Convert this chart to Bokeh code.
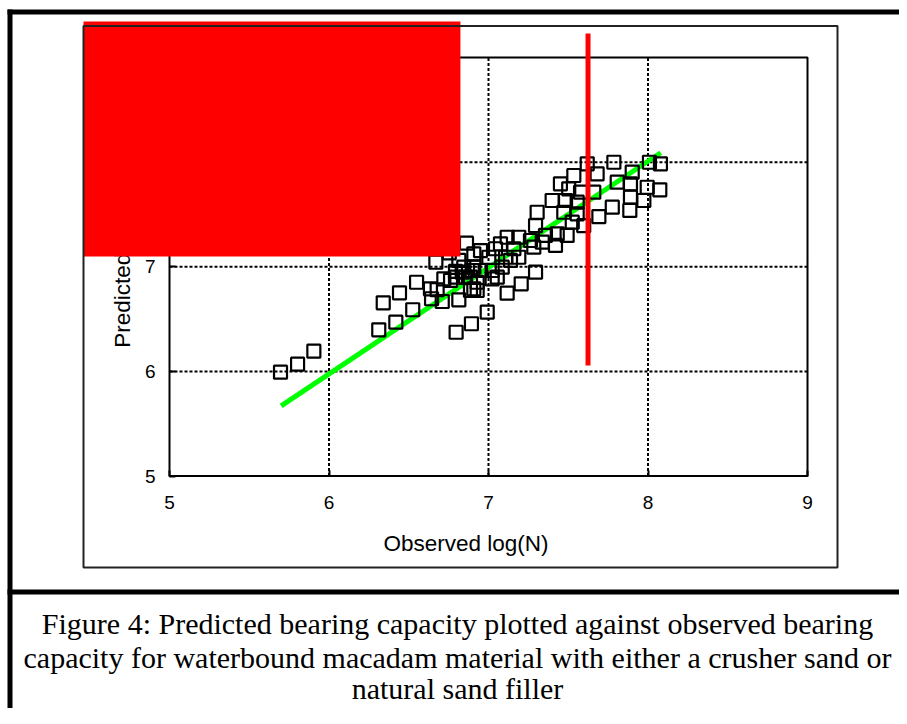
from math import pi
from bokeh.plotting import figure
from bokeh.models import Range1d, FixedTicker
from bokeh.core.properties import value
from bokeh.embed import file_html
from bokeh.resources import INLINE

# ---------------- data ----------------
observed = [
    5.696, 5.803, 5.905, 6.312, 6.340, 6.419, 6.442, 6.525, 6.549, 6.643,
    6.670, 6.678, 6.710, 6.754, 6.797, 6.862, 6.893, 6.814, 6.762, 6.793,
    6.814, 6.908, 6.908, 6.835, 6.887, 6.908, 6.992, 7.117, 7.205, 7.295,
    7.619, 7.786, 8.009, 8.078, 7.681, 7.535, 7.901, 7.890, 7.807, 7.995,
    8.074, 7.451, 7.503, 7.577, 7.660, 7.890, 7.974, 7.776, 7.886, 7.692,
    7.399, 7.483, 7.556, 7.305, 7.472, 7.556, 7.597, 7.525, 7.295, 7.493,
    7.431, 7.357, 7.420, 7.337, 7.263, 7.284, 7.190, 7.117, 7.075, 7.044,
    7.159, 7.190, 7.107, 7.002, 6.950, 6.898, 6.950, 6.845, 7.023, 7.086,
    7.138, 7.055, 6.929, 6.856, 6.793, 6.887, 6.929, 7.023, 6.720, 6.636,
]
predicted = [
    5.992, 6.069, 6.193, 6.397, 6.655, 6.470, 6.751, 6.589, 6.852, 6.694,
    7.043, 6.780, 6.668, 7.133, 6.374, 7.225, 6.455, 6.684, 6.869, 6.955,
    7.060, 7.124, 6.996, 6.948, 6.900, 6.789, 6.566, 6.747, 6.837, 6.948,
    7.984, 7.999, 7.999, 7.984, 7.888, 7.872, 7.904, 7.793, 7.808, 7.760,
    7.735, 7.793, 7.745, 7.713, 7.713, 7.665, 7.633, 7.569, 7.538, 7.480,
    7.633, 7.633, 7.617, 7.521, 7.521, 7.506, 7.394, 7.426, 7.394, 7.299,
    7.315, 7.299, 7.204, 7.235, 7.251, 7.187, 7.282, 7.282, 7.219, 7.172,
    7.172, 7.091, 7.091, 7.091, 7.155, 6.964, 6.964, 6.996, 6.964, 6.996,
    7.060, 6.900, 6.852, 6.900, 6.900, 6.773, 6.773, 6.885, 6.885, 6.789,
]
fit_observed = [5.70, 8.08]
fit_predicted = [5.67, 8.09]

axis_ticks = [5, 6, 7, 8, 9]
grid_ticks = [6, 7, 8]

# red overlay rectangle and red vertical bar (data units)
red_box_x = [4.461, 6.824]
red_box_y = [7.098, 9.345]
red_bar_x = [7.624]
red_bar_y = [6.056, 9.229]

x_title = "Observed log(N)"
y_title = "Predicted log(N)"
caption_lines = [
    "Figure 4: Predicted bearing capacity plotted against observed bearing",
    "capacity for waterbound macadam material with either a crusher sand or",
    "natural sand filler",
]

# ---------------- layout (pixels of the picture) ----------------
W, H = 899, 708
CANVAS_L, CANVAS_T = 0, 0
PLOT_L, PLOT_R = 169.0, 807.0      # px of x=5 and x=9
PLOT_B, PLOT_T = 475.5, 57.0       # px of y=5 and y=9
lo, hi = axis_ticks[0], axis_ticks[-1]
sx = (PLOT_R - PLOT_L) / (hi - lo)
sy = (PLOT_B - PLOT_T) / (hi - lo)


def px_x(px):
    return lo + (px - PLOT_L) / sx


def px_y(py):
    return lo + (PLOT_B - py) / sy


p = figure(width=W, height=H, output_backend="svg", toolbar_location=None,
           x_range=Range1d(px_x(CANVAS_L), px_x(CANVAS_L + W)),
           y_range=Range1d(px_y(CANVAS_T + H), px_y(CANVAS_T)),
           min_border=0)
p.min_border_left = p.min_border_right = 0
p.min_border_top = p.min_border_bottom = 0
p.outline_line_color = None
p.background_fill_color = "white"
p.border_fill_color = "white"
p.grid.visible = False

for ax in (p.xaxis[0], p.yaxis[0]):
    ax.fixed_location = lo
    ax.bounds = (lo, hi)
    ax.ticker = FixedTicker(ticks=axis_ticks, minor_ticks=[])
    ax.axis_line_color = None
    ax.major_tick_in = 6
    ax.major_tick_out = 0
    ax.minor_tick_in = 0
    ax.minor_tick_out = 0
    ax.major_tick_line_color = "black"
    ax.major_tick_line_width = 2
    ax.major_label_text_font = "Liberation Sans"
    ax.major_label_text_font_size = "19px"
    ax.major_label_text_color = "black"
p.xaxis.major_label_standoff = 20
p.yaxis.major_label_standoff = 14

# dotted grid inside the plot box
p.segment(x0=grid_ticks, y0=[lo] * len(grid_ticks), x1=grid_ticks, y1=[hi] * len(grid_ticks),
          line_color="black", line_width=2, line_dash="3 2")
p.segment(x0=[lo] * len(grid_ticks), y0=grid_ticks, x1=[hi] * len(grid_ticks), y1=grid_ticks,
          line_color="black", line_width=2, line_dash="3 2")

# fitted line
p.line(fit_observed, fit_predicted, line_color="#00ff00", line_width=5)

# observations
p.scatter(observed, predicted, marker="square", size=13, fill_color=None,
          line_color="black", line_width=2.2)

# plot box
p.quad(left=[lo], right=[hi], bottom=[lo], top=[hi], fill_color=None,
       line_color="black", line_width=2)

# axis titles
p.text(x=[px_x(465.5)], y=[px_y(543)], text=[x_title], text_font=value("Liberation Sans"),
       text_font_size="22.5px", text_align="center", text_baseline="middle", text_color="black")
p.text(x=[px_x(122)], y=[px_y(266)], text=[y_title], text_font=value("Liberation Sans"),
       text_font_size="22.5px", text_align="center", text_baseline="middle",
       angle=pi / 2, text_color="black")

# red overlay rectangle and red bar
p.quad(left=[red_box_x[0]], right=[red_box_x[1]], bottom=[red_box_y[0]], top=[red_box_y[1]],
       fill_color="#ff0000", line_color=None, level="overlay")
p.segment(x0=red_bar_x, y0=[red_bar_y[0]], x1=red_bar_x, y1=[red_bar_y[1]],
          line_color="#ff0000", line_width=5, level="overlay")

# inner chart box
p.quad(left=[px_x(83)], right=[px_x(837)], bottom=[px_y(567)], top=[px_y(25.5)],
       fill_color=None, line_color="#222222", line_width=2, level="overlay")

# outer thick frame: top bar, left bar, separator
bars_l = [px_x(7), px_x(7), px_x(7)]
bars_r = [px_x(W), px_x(12), px_x(W)]
bars_t = [px_y(9), px_y(9), px_y(589)]
bars_b = [px_y(14), px_y(H), px_y(594)]
p.quad(left=bars_l, right=bars_r, bottom=bars_b, top=bars_t,
       fill_color="black", line_color=None, level="overlay")

# caption
p.text(x=[px_x(457)] * 3, y=[px_y(623), px_y(657), px_y(688)], text=caption_lines,
       text_font=value("Liberation Serif"), text_font_size="30px",
       text_align="center", text_baseline="middle", text_color="black")

open("out.html", "w").write(file_html(p, INLINE))
